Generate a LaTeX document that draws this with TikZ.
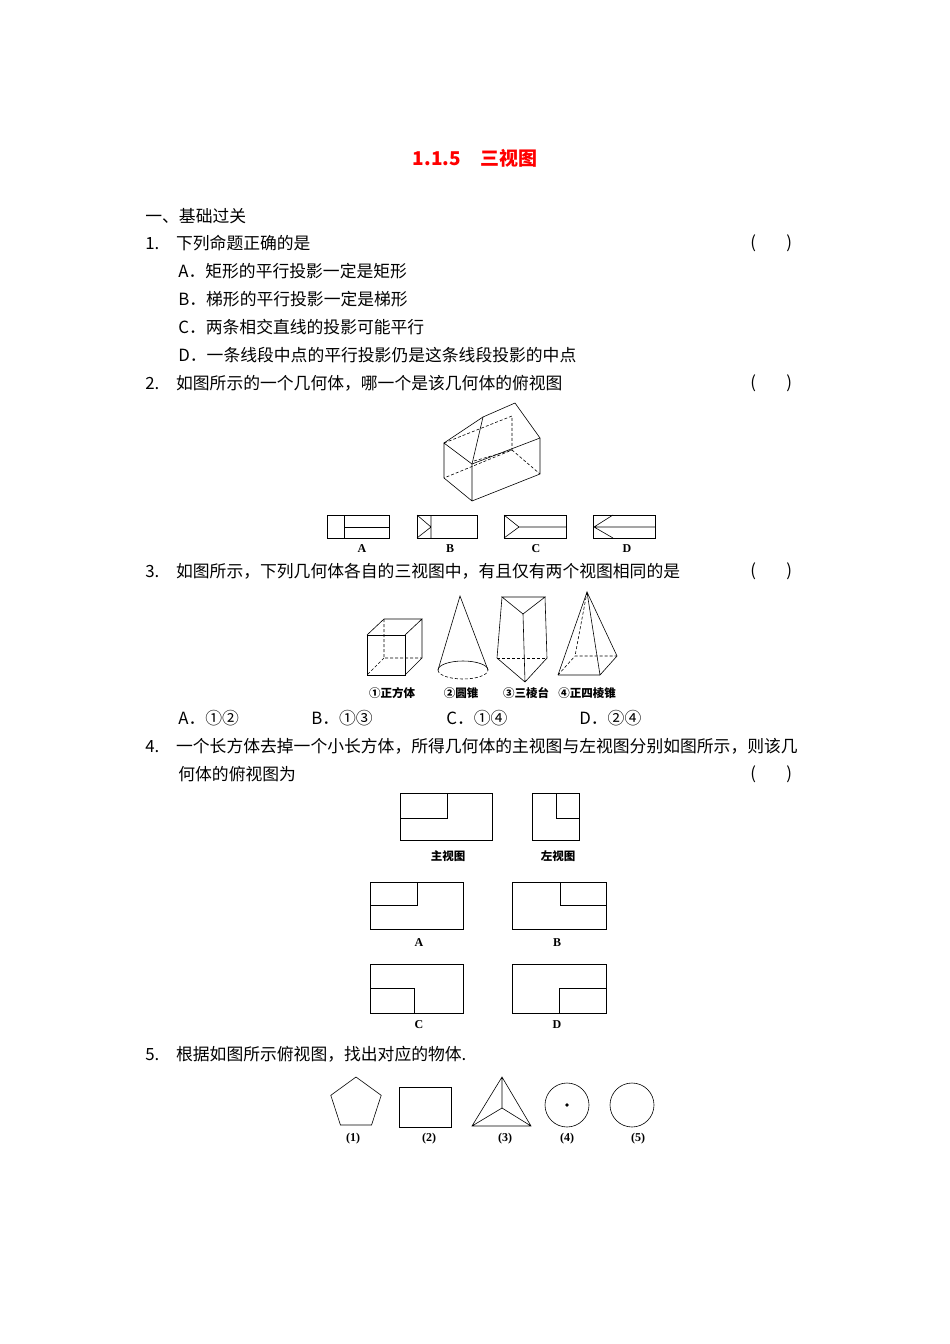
\documentclass[tikz,border=0pt]{standalone}
\usepackage{fontspec}
\setmainfont{Liberation Serif}
\newfontfamily\cjk{Noto Sans CJK SC}
\begin{document}
\begin{tikzpicture}[x=1pt,y=-1pt,line width=0.7pt,
  txt/.style={anchor=west,inner sep=0pt,font=\cjk\fontsize{16.8}{17}\selectfont},
  lab/.style={inner sep=0pt,font=\bfseries\fontsize{12}{13}\selectfont},
  clab/.style={inner sep=0pt,font=\cjk\bfseries\fontsize{11.5}{12}\selectfont},
  hid/.style={dashed,dash pattern=on 3pt off 2pt}]
\path[use as bounding box] (0,0) rectangle (950,1344);
\node[inner sep=0pt,text=red,font=\cjk\bfseries\fontsize{19}{20}\selectfont] (title) at (475,158) {1.1.5\quad 三视图};
\node[txt] (s1) at (145,216) {一、基础过关};
\node[txt] (q1) at (145,243) {1.\hspace{1em}下列命题正确的是};
\node[txt] (p1) at (750,243) {(\hspace{1.8em})};
\node[txt] (q1a) at (178,271) {A．矩形的平行投影一定是矩形};
\node[txt] (q1b) at (178,299) {B．梯形的平行投影一定是梯形};
\node[txt] (q1c) at (178,327) {C．两条相交直线的投影可能平行};
\node[txt] (q1d) at (178,355) {D．一条线段中点的平行投影仍是这条线段投影的中点};
\node[txt] (q2) at (145,383) {2.\hspace{1em}如图所示的一个几何体，哪一个是该几何体的俯视图};
\node[txt] (p2) at (750,383) {(\hspace{1.8em})};
% house
\draw[line width=0.6pt] (444,443)--(444,478)--(472,501)--(540,474)--(540,438)--(515,403)--(483,417)--(444,443)--(472,464)--(472,501);
\draw[line width=0.6pt] (472,464)--(540,438);
\draw[line width=0.6pt] (483,417)--(472,464);
\draw[hid,line width=0.6pt] (444,443)--(512,416)--(512,450)--(444,478);
\draw[hid,line width=0.6pt] (512,450)--(540,474);
\draw[hid,line width=0.6pt] (474,461)--(512,450);
% options
\draw[line width=0.6pt] (327,515) rectangle (389,538); \draw[line width=0.6pt] (344,515)--(344,538) (344,527)--(389,527);
\draw[line width=0.6pt] (417,515) rectangle (477,538); \draw[line width=0.6pt] (431,515)--(431,538) (417,515)--(431,527)--(417,538);
\draw[line width=0.6pt] (504,515) rectangle (566,538); \draw[line width=0.6pt] (504,515)--(519,527)--(504,538) (519,527)--(566,527);
\draw[line width=0.6pt] (593,515) rectangle (655,538); \draw[line width=0.6pt] (613,515)--(594,527)--(613,538) (594,527)--(655,527);
\node[lab] (la) at (362,549) {A};
\node[lab] (lb) at (450,549) {B};
\node[lab] (lc) at (536,549) {C};
\node[lab] (ld) at (627,549) {D};
\node[txt] (q3) at (145,571) {3.\hspace{1em}如图所示，下列几何体各自的三视图中，有且仅有两个视图相同的是};
\node[txt] (p3) at (750,571) {(\hspace{1.8em})};
% cube
\draw[line width=0.6pt] (367,635) rectangle (405,675);
\draw[line width=0.6pt] (367,635)--(384,619)--(422,619)--(405,635) (422,619)--(422,658)--(405,675);
\draw[hid,line width=0.6pt] (384,619)--(384,658)--(422,658) (384,658)--(367,675);
% cone
\draw[line width=0.6pt] (438,670)--(460,596)--(488,670);
\draw[line width=0.6pt] (438,670) arc[start angle=180,end angle=360,x radius=25,y radius=9];
\draw[hid,line width=0.6pt] (438,670) arc[start angle=180,end angle=0,x radius=25,y radius=9];
% frustum
\draw[line width=0.6pt] (502,597)--(545,597)--(523,614)--cycle;
\draw[line width=0.6pt] (502,597)--(497,658)--(525,682)--(547,658)--(545,597) (523,614)--(525,682);
\draw[hid,line width=0.6pt] (497,658)--(547,658);
% pyramid
\draw[line width=0.6pt] (558,675)--(587,592)--(600,675)--(617,656)--(587,592) (558,675)--(600,675);
\draw[hid,line width=0.6pt] (587,592)--(575,656) (558,675)--(575,656)--(617,656);
\node[clab] (c1) at (392,693) {①正方体};
\node[clab] (c2) at (461,693) {②圆锥};
\node[clab] (c3) at (526,693) {③三棱台};
\node[clab] (c4) at (587,693) {④正四棱锥};
\node[txt] (q3a) at (178,718) {A．①②};
\node[txt] (q3b) at (311,718) {B．①③};
\node[txt] (q3c) at (446,718) {C．①④};
\node[txt] (q3d) at (579,718) {D．②④};
\node[txt] (q4) at (145,746) {4.\hspace{1em}一个长方体去掉一个小长方体，所得几何体的主视图与左视图分别如图所示，则该几};
\node[txt] (q4b) at (178,774) {何体的俯视图为};
\node[txt] (p4) at (750,774) {(\hspace{1.8em})};
% Q4 views
\draw[line width=0.6pt] (400,793) rectangle (492,840); \draw[line width=0.6pt] (447,793)--(447,818)--(400,818);
\draw[line width=0.6pt] (532,793) rectangle (579,840); \draw[line width=0.6pt] (556,793)--(556,818)--(579,818);
\node[clab] (v1) at (448,856) {主视图};
\node[clab] (v2) at (558,856) {左视图};
\draw[line width=0.6pt] (370,882) rectangle (463,929); \draw[line width=0.6pt] (417,882)--(417,905)--(370,905);
\draw[line width=0.6pt] (512,882) rectangle (606,929); \draw[line width=0.6pt] (560,882)--(560,905)--(606,905);
\node[lab] (qa) at (419,943) {A};
\node[lab] (qb) at (557,943) {B};
\draw[line width=0.6pt] (370,964) rectangle (463,1013); \draw[line width=0.6pt] (370,988)--(414,988)--(414,1013);
\draw[line width=0.6pt] (512,964) rectangle (606,1013); \draw[line width=0.6pt] (559,1013)--(559,988)--(606,988);
\node[lab] (qc) at (419,1025) {C};
\node[lab] (qd) at (557,1025) {D};
\node[txt] (q5) at (145,1054) {5.\hspace{1em}根据如图所示俯视图，找出对应的物体.};
% Q5 shapes
\draw[line width=0.6pt] (356,1103.5)+(90:-26.5) \foreach \a in {1,...,4}{--+({-90+72*\a}:26.5)}--cycle;
\draw[line width=0.6pt] (399,1087) rectangle (451,1127);
\draw[line width=0.6pt] (502,1077)--(472,1126)--(531,1126)--cycle (502,1077)--(502,1108) (472,1126)--(502,1108)--(531,1126);
\draw[line width=0.6pt] (567,1105) circle[radius=22];
\fill (567,1105) circle[radius=1.8];
\draw[line width=0.6pt] (632,1105) circle[radius=22];
\node[lab] (r1) at (353,1139) {(1)};
\node[lab] (r2) at (429,1139) {(2)};
\node[lab] (r3) at (505,1139) {(3)};
\node[lab] (r4) at (567,1139) {(4)};
\node[lab] (r5) at (638,1139) {(5)};
\end{tikzpicture}
\end{document}
